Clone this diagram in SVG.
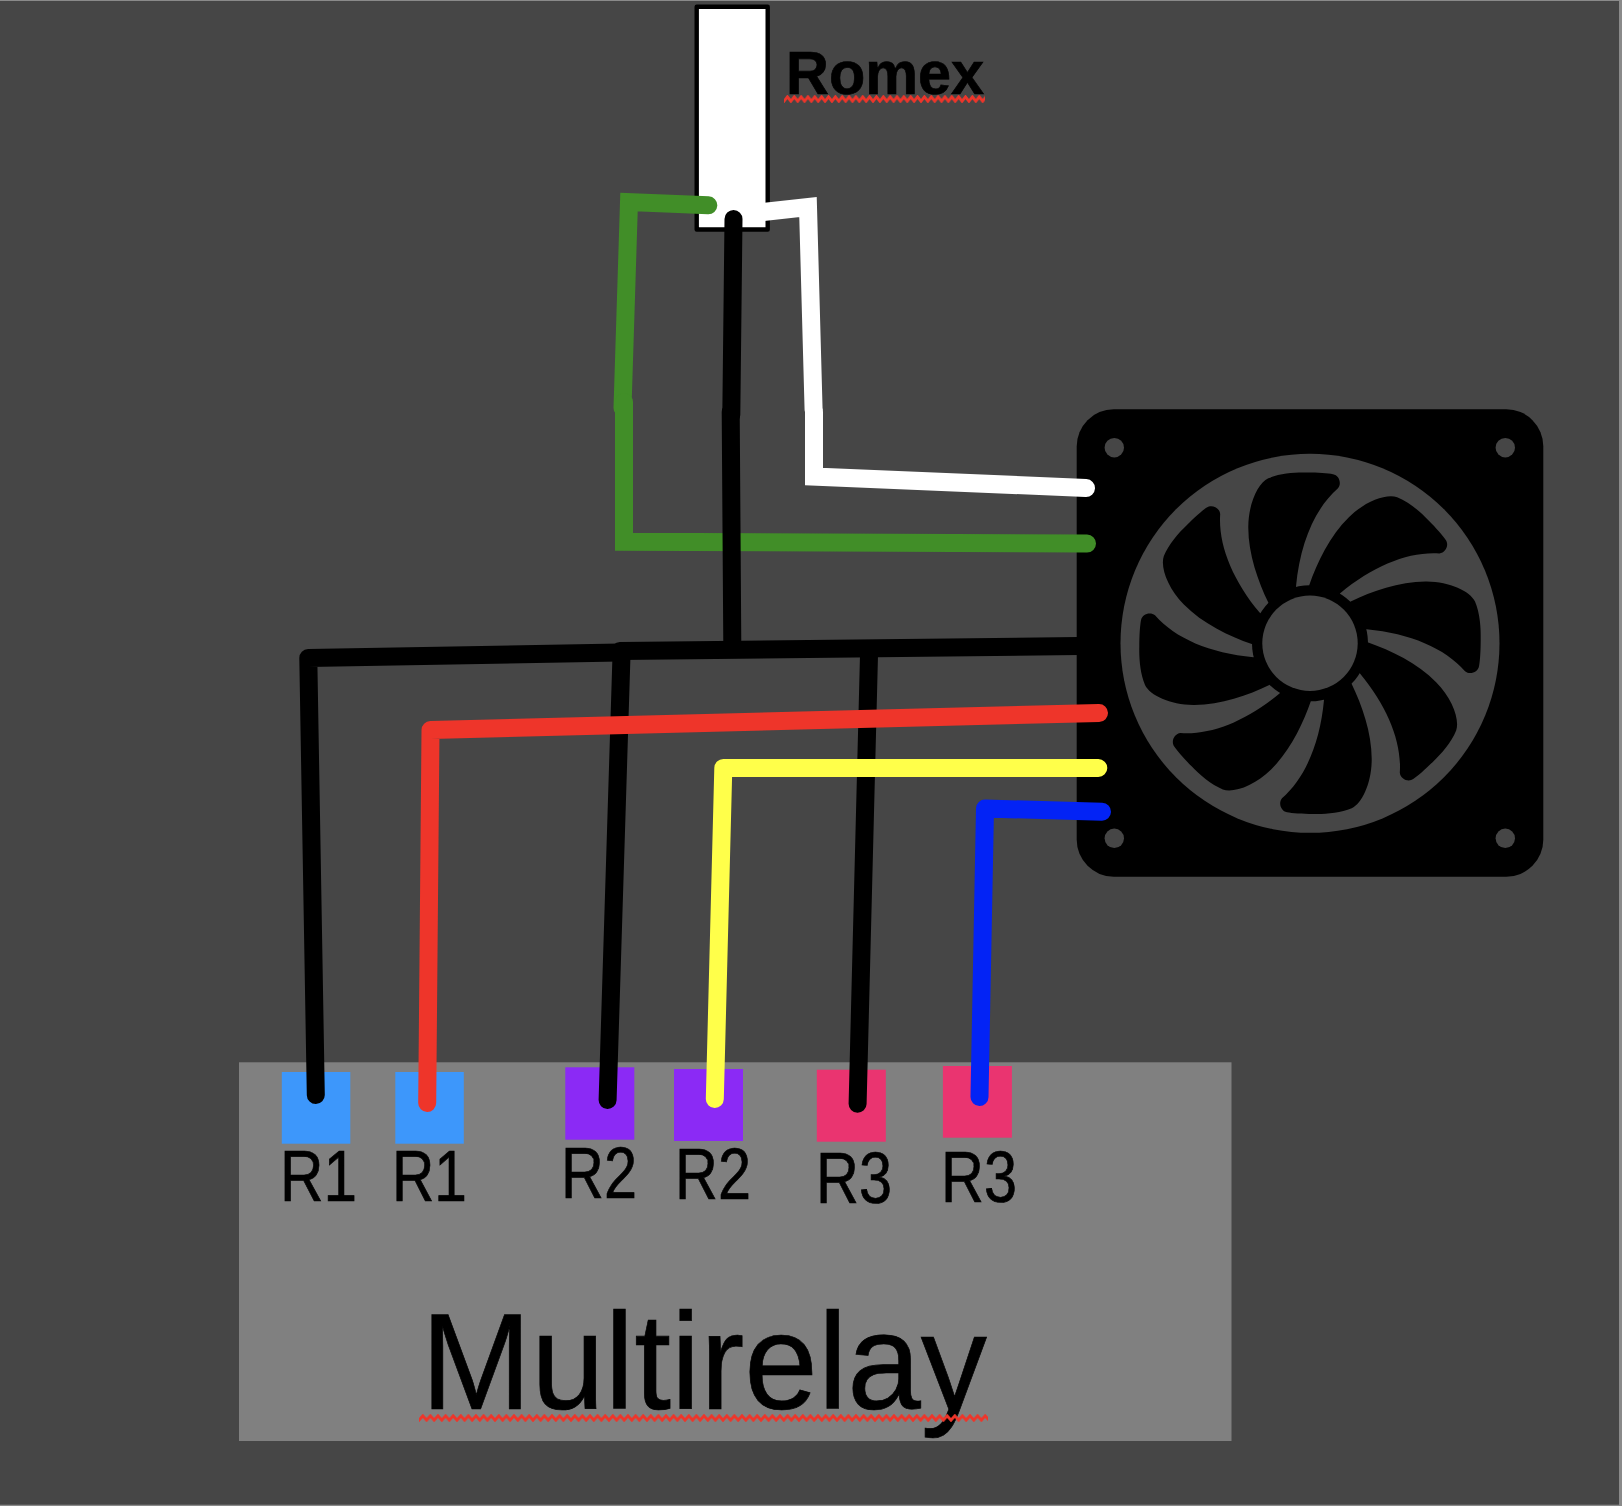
<svg xmlns="http://www.w3.org/2000/svg" width="1622" height="1506" viewBox="0 0 1622 1506">
<style>
.wire{fill:none;stroke-width:18;stroke-linecap:round;stroke-linejoin:round}
.miter{stroke-linejoin:miter}
.k{stroke:#000}.g{stroke:#418e28}.w{stroke:#fff}.r{stroke:#ee352a}.y{stroke:#ffff4a}.b{stroke:#0323f5}
.hole{fill:#464646}
.t{font-family:"Liberation Sans",Arial,sans-serif;fill:#000;stroke:#000;stroke-width:.7}
.rl{font-size:72px}
.r1{fill:#3d97fb}.r2{fill:#8b2af5}.r3{fill:#ea3470}
</style>
<defs>
<pattern id="sqA" patternUnits="userSpaceOnUse" x="784" y="95" width="6.85" height="8"><path d="M-3.42 1.8 0 6.2 3.42 1.8 6.85 6.2 10.27 1.8" fill="none" stroke="#ee352a" stroke-width="2.8"/></pattern>
<pattern id="sqB" patternUnits="userSpaceOnUse" x="419" y="1414" width="7.6" height="8"><path d="M-3.8 1.8 0 6.2 3.8 1.8 7.6 6.2 11.4 1.8" fill="none" stroke="#ee352a" stroke-width="2.8"/></pattern>
<path id="blade" d="M-41.7-40.7C-52-62-62-90-61.7-116.7C-61.5-140-52-160-41.7-165C-30-170-15-171-3.3-170.7C8-170.7 18-170 23-169C29-168 32-160 28-155C5-135-10-100-14-56.7L-12.5-51L-37.5-36.5Z"/>
</defs>
<rect width="1622" height="1506" fill="#8a8a8a"/>
<rect y="1" width="1619" height="1503.7" fill="#464646"/>
<g id="multirelay">
<rect x="239" y="1062.3" width="992.5" height="378.7" fill="#808080"/>
<text class="t" x="421" y="1409" font-size="137" textLength="566" lengthAdjust="spacingAndGlyphs">Multirelay</text>
<rect x="419" y="1414" width="569" height="8" fill="url(#sqB)"/>
</g>
<g id="r1a"><rect class="r1" x="281.8" y="1072" width="68.5" height="71.7"/><text class="t rl" x="280" y="1201.3" textLength="77" lengthAdjust="spacingAndGlyphs">R1</text></g>
<g id="r1b"><rect class="r1" x="395.3" y="1072" width="68.5" height="71.7"/><text class="t rl" x="392" y="1201.3" textLength="75" lengthAdjust="spacingAndGlyphs">R1</text></g>
<g id="r2a"><rect class="r2" x="565.3" y="1067.3" width="69" height="72.4"/><text class="t rl" x="561" y="1198.3" textLength="76" lengthAdjust="spacingAndGlyphs">R2</text></g>
<g id="r2b"><rect class="r2" x="674" y="1069" width="69" height="72"/><text class="t rl" x="675" y="1199.3" textLength="76" lengthAdjust="spacingAndGlyphs">R2</text></g>
<g id="r3a"><rect class="r3" x="816.8" y="1069.7" width="69" height="72"/><text class="t rl" x="816" y="1202.7" textLength="76" lengthAdjust="spacingAndGlyphs">R3</text></g>
<g id="r3b"><rect class="r3" x="942.9" y="1066" width="69" height="71.7"/><text class="t rl" x="941" y="1202" textLength="76" lengthAdjust="spacingAndGlyphs">R3</text></g>
<g id="fan">
<rect x="1076.7" y="409.3" width="466.6" height="467.4" rx="37" fill="#000"/>
<circle class="hole" cx="1114.3" cy="447.7" r="9.7"/><circle class="hole" cx="1505.3" cy="447.7" r="9.7"/>
<circle class="hole" cx="1114.3" cy="838.3" r="9.7"/><circle class="hole" cx="1505.3" cy="838.3" r="9.7"/>
<circle class="hole" cx="1310" cy="643.3" r="189.5"/>
<g transform="translate(1310 643.3)" fill="#000">
<circle r="58"/>
<use href="#blade"/><use href="#blade" transform="rotate(45)"/><use href="#blade" transform="rotate(90)"/><use href="#blade" transform="rotate(135)"/><use href="#blade" transform="rotate(180)"/><use href="#blade" transform="rotate(225)"/><use href="#blade" transform="rotate(270)"/><use href="#blade" transform="rotate(315)"/>
<circle r="47.7" class="hole"/>
</g>
</g>
<g id="romex">
<rect x="696.7" y="6.7" width="71" height="222.8" fill="#fff" stroke="#000" stroke-width="4.4" stroke-linejoin="round"/>
<text class="t" x="786" y="94.3" font-size="61" font-weight="700" textLength="198" lengthAdjust="spacingAndGlyphs">Romex</text>
<rect x="784" y="95" width="201" height="8" fill="url(#sqA)"/>
</g>
<g id="connectors">
<path class="wire miter g" d="M708.3 205.3 629 202 622.5 408"/>
<path class="wire miter g" d="M624 402V541.7L1087 543.5"/>
<path class="wire miter w" d="M745 214 808 207 813.6 410"/>
<path class="wire miter w" d="M814 412V476.5L1086 488"/>
<path class="wire k" d="M733.5 219 731.3 415"/>
<path class="wire k" d="M730.7 412 732.3 645"/>
<path class="wire k" d="M620 652.5 308.3 658 315.8 1095"/>
<path class="wire k" d="M1079 646 620 651"/>
<path class="wire k" d="M621.5 655 607.6 1100"/>
<path class="wire k" d="M869 655 857.6 1103.7"/>
<path class="wire r" d="M1099 713 430.5 730 427.2 1103"/>
<path class="wire y" d="M1098.3 768H723.3L714.8 1099"/>
<path class="wire b" d="M1102 811.7 985 808.5 979.5 1097"/>
</g>
</svg>
